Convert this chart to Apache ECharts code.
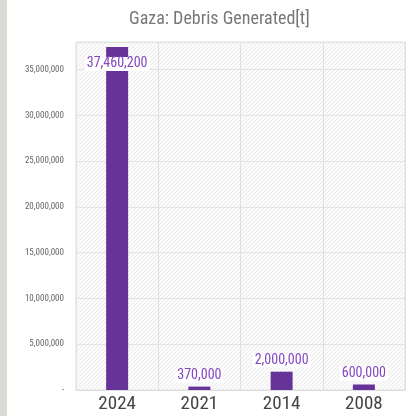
<!DOCTYPE html>
<html>
<head>
<meta charset="utf-8">
<script src="https://cdn.jsdelivr.net/npm/echarts@6/dist/echarts.min.js"></script>
<style>
	html, body { margin: 0; padding: 0; background: #fff; }
	#chart { width: 410px; height: 416px; }
</style>
</head>
<body>
<div id="chart"></div>
<script>
var years = ['2024', '2021', '2014', '2008'];
var debris = [37460200, 370000, 2000000, 600000];
var yTicks = [0, 5000000, 10000000, 15000000, 20000000, 25000000, 30000000, 35000000];

var FONT = '"Roboto Condensed", Roboto, sans-serif';

//斜线底纹
function hatch() {
	var c = document.createElement('canvas');
	c.width = 4;
	c.height = 4;
	var ctx = c.getContext('2d');
	ctx.fillStyle = '#fbfbfb';
	ctx.fillRect(0, 0, 4, 4);
	ctx.strokeStyle = '#ebebeb';
	ctx.lineWidth = 1;
	ctx.beginPath();
	ctx.moveTo(0, 4); ctx.lineTo(4, 0);
	ctx.moveTo(-2, 2); ctx.lineTo(2, -2);
	ctx.moveTo(2, 6); ctx.lineTo(6, 2);
	ctx.stroke();
	return c;
}

function fmt(v) {
	if (v === 0) return '-';
	return String(v).replace(/\B(?=(\d{3})+(?!\d))/g, ',');
}

var data = debris.map(function(v, i) {
	var item = { value: v };
	if (i === 0) {
		item.label = { position: 'insideTop', distance: 10 };
	}
	return item;
});

var chart = echarts.init(document.getElementById('chart'));
chart.setOption({
	animation: false,
	title: {
		text: 'Gaza: Debris Generated[t]',
		left: 124,
		top: 5,
		textStyle: { fontFamily: FONT, fontSize: 18, fontWeight: 'normal', color: '#777' }
	},
	graphic: [{
		type: 'rect',
		shape: { x: 0, y: 0, width: 7, height: 416 },
		style: { fill: '#d9d9d5' },
		silent: true
	}],
	grid: {
		left: 76,
		right: 5,
		top: 42,
		bottom: 26,
		show: true,
		backgroundColor: { image: hatch(), repeat: 'repeat' },
		borderColor: '#e0e0e0',
		borderWidth: 1
	},
	xAxis: {
		type: 'category',
		data: years,
		axisLine: { lineStyle: { color: '#ddd' } },
		axisTick: { show: false },
		splitLine: { show: true, lineStyle: { color: '#e0e0e0' } },
		axisLabel: { fontFamily: FONT, fontSize: 19, color: '#444', margin: 5 }
	},
	yAxis: {
		type: 'value',
		min: 0,
		max: 38000000,
		interval: 5000000,
		axisLine: { show: false },
		axisTick: { show: false },
		splitLine: { lineStyle: { color: '#e2e2e2' } },
		axisLabel: {
			fontFamily: FONT,
			fontSize: 9,
			color: '#666',
			margin: 12,
			showMaxLabel: false,
			formatter: function(v) {
				return yTicks.indexOf(v) > -1 ? fmt(v) : '';
			}
		}
	},
	series: [{
		type: 'bar',
		data: data,
		barWidth: 22,
		itemStyle: { color: '#663399' },
		label: {
			show: true,
			position: 'top',
			distance: 4,
			fontFamily: FONT,
			fontSize: 14,
			color: '#8447c0',
			backgroundColor: '#fff',
			padding: [0, 2],
			formatter: function(p) { return fmt(p.value); }
		}
	}]
});
</script>
</body>
</html>
